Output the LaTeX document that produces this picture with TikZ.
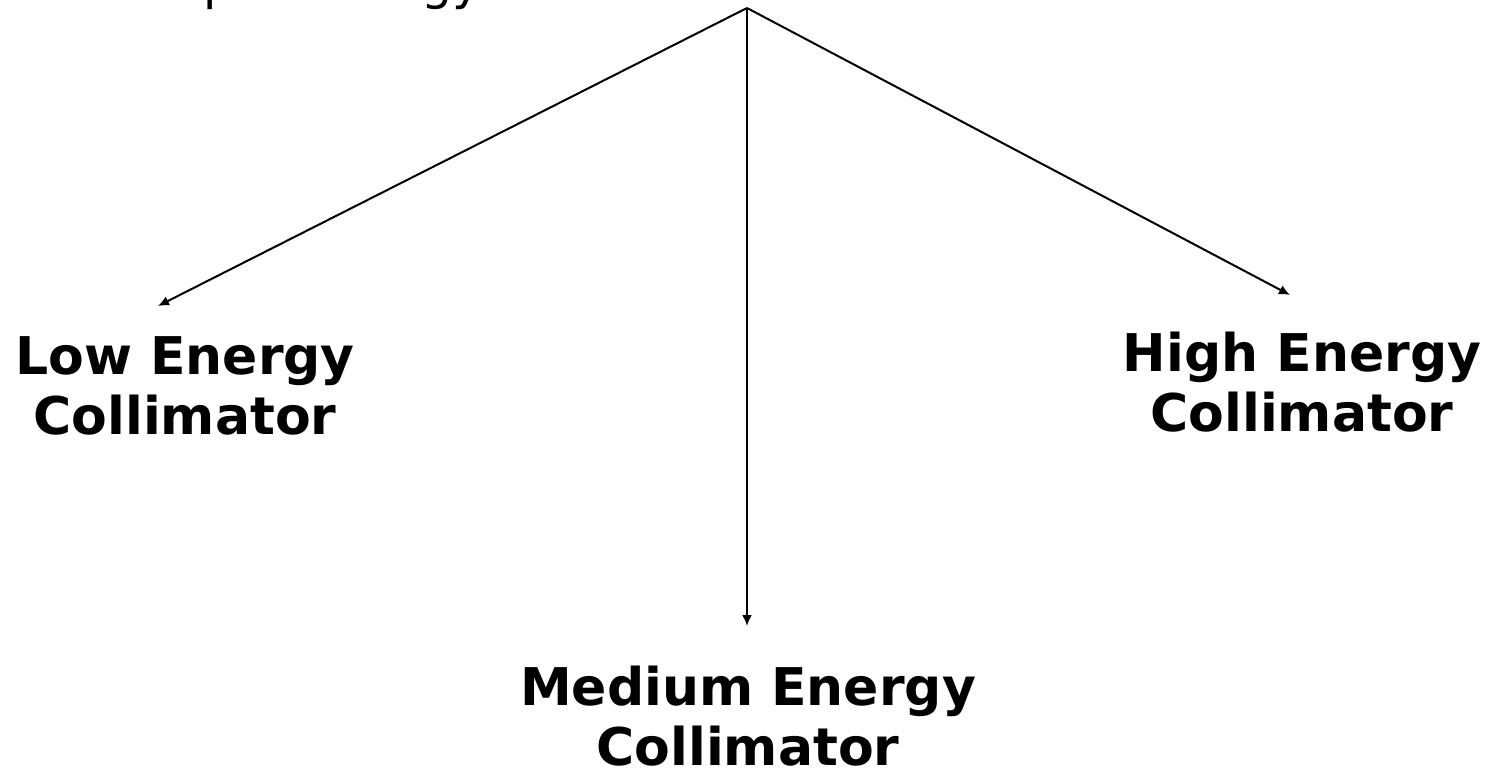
\documentclass[tikz,border=0pt]{standalone}
\usepackage{fontspec}
\setmainfont{DejaVu Sans}
\usetikzlibrary{arrows.meta}
\begin{document}
\begin{tikzpicture}[x=1pt,y=-1pt,
  conn/.style={line width=2pt,-{Latex[length=11pt,width=10pt]}},
  lbl/.style={font=\fontsize{52}{60}\selectfont\bfseries,align=center,inner sep=0pt,anchor=north},
  toptext/.style={font=\fontsize{49}{58}\selectfont,inner sep=0pt,anchor=base west}]
\useasboundingbox (0,0) rectangle (1505,773);
\node[toptext] (top) at (6,0) {Based upon energy};
\coordinate (apex) at (747,8);
\coordinate (tl) at (158,306);
\coordinate (tm) at (747,626);
\coordinate (tr) at (1290,295);
\draw[conn] (apex) -- (tl);
\draw[conn] (apex) -- (tm);
\draw[conn] (apex) -- (tr);
\node[lbl] (low) at (185,336) {Low Energy\\Collimator};
\node[lbl] (high) at (1302,332) {High Energy\\Collimator};
\node[lbl] (med) at (748,666) {Medium Energy\\Collimator};
\end{tikzpicture}
\end{document}
